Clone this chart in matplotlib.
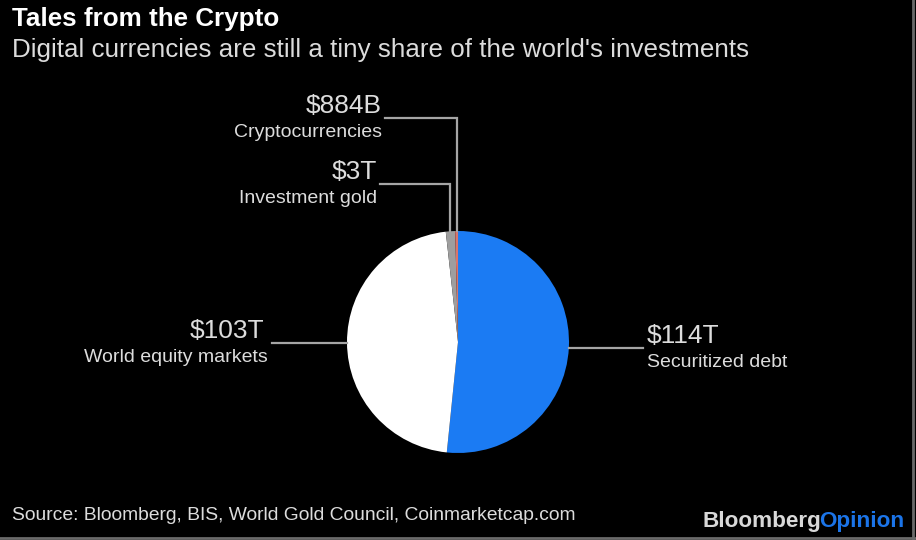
import numpy as np
import matplotlib
matplotlib.use("Agg")
import matplotlib.pyplot as plt

plt.rcParams['font.family'] = ['Liberation Sans', 'DejaVu Sans']

# data
categories = ["Securitized debt", "World equity markets", "Investment gold", "Cryptocurrencies"]
values = [114, 103, 3, 0.884]          # trillions of dollars
value_labels = ["$114T", "$103T", "$3T", "$884B"]
colors = ["#1b7bf3", "#ffffff", "#9e9e9e", "#d9756c"]

W, H = 916, 540
BG = "#000000"
LINE = "#a5a5a5"
TXT = "#dcdcdc"
VAL_FS = 19
CAT_FS = 14


def Y(y):
    # convert a top-down pixel y into axes y
    return H - y


fig = plt.figure(figsize=(W / 100, H / 100), dpi=100, facecolor=BG)
ax = fig.add_axes([0, 0, 1, 1])
ax.set_facecolor(BG)

cx, cy, r = 458, Y(342), 111
wedges, _ = ax.pie(values, colors=colors, startangle=90, counterclock=False,
                   center=(cx, cy), radius=r,
                   wedgeprops=dict(linewidth=0))
ax.set_xlim(0, W)
ax.set_ylim(0, H)
ax.set_aspect('equal')
ax.axis('off')


def edge_point(w):
    ang = np.deg2rad((w.theta1 + w.theta2) / 2)
    return cx + r * np.cos(ang), cy + r * np.sin(ang)


# top labels (crypto, gold) with elbow leaders
for i, (ly, lx0, ty) in [(3, (118, 385, 113)), (2, (184, 380, 179))]:
    px, py = edge_point(wedges[i])
    ax.plot([lx0, px, px], [Y(ly), Y(ly), py], color=LINE, lw=1.6,
            solid_joinstyle='miter')
    ax.text(lx0 - 3, Y(ty), value_labels[i], color=TXT, fontsize=VAL_FS,
            ha='right', va='baseline')
    ax.text(lx0 - 3, Y(ty + 24), categories[i], color=TXT, fontsize=CAT_FS,
            ha='right', va='baseline')

# equity (left)
ly = 343
dx = np.sqrt(r ** 2 - (Y(ly) - cy) ** 2)
ax.plot([272, cx - dx], [Y(ly), Y(ly)], color=LINE, lw=1.6)
ax.text(264, Y(338), value_labels[1], color=TXT, fontsize=VAL_FS,
        ha='right', va='baseline')
ax.text(268, Y(362), categories[1], color=TXT, fontsize=CAT_FS,
        ha='right', va='baseline')

# securitized debt (right)
ly = 348
dx = np.sqrt(r ** 2 - (Y(ly) - cy) ** 2)
ax.plot([cx + dx, 643], [Y(ly), Y(ly)], color=LINE, lw=1.6)
ax.text(647, Y(343), value_labels[0], color=TXT, fontsize=VAL_FS,
        ha='left', va='baseline')
ax.text(647, Y(367), categories[0], color=TXT, fontsize=CAT_FS,
        ha='left', va='baseline')

# titles
fig.text(12 / W, 1 - 26 / H, "Tales from the Crypto", color="white",
         fontsize=18.7, fontweight='bold', va='baseline')
fig.text(12 / W, 1 - 57 / H,
         "Digital currencies are still a tiny share of the world's investments",
         color=TXT, fontsize=18.7, va='baseline')
fig.text(12 / W, 1 - 520 / H,
         "Source: Bloomberg, BIS, World Gold Council, Coinmarketcap.com",
         color=TXT, fontsize=13.9, va='baseline')

# logo
t1 = fig.text(703 / W, 1 - 527 / H, "Bloomberg", color="#d8d8d8",
              fontsize=16.2, fontweight='bold', va='baseline')
fig.canvas.draw()
bb = t1.get_window_extent()
fig.text((bb.x1 - 3) / W, 1 - 527 / H, "Opinion", color="#1b74e8",
         fontsize=16.2, fontweight='bold', va='baseline')

# thin frame at right and bottom edges
ax.plot([W - 3, W - 3], [0, H], color="#6a6a6a", lw=2)
ax.plot([0, W], [2, 2], color="#6a6a6a", lw=2)

fig.savefig("out.png", dpi=100, facecolor=BG)
